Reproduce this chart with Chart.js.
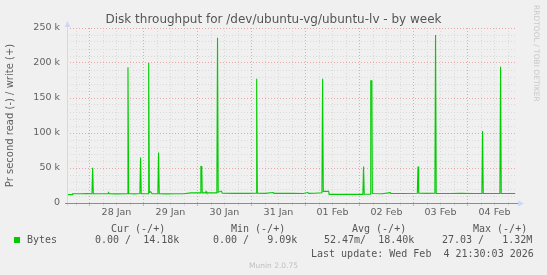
<!DOCTYPE html>
<html>
<head>
<meta charset="utf-8">
<script src="https://cdn.jsdelivr.net/npm/chart.js@4/dist/chart.umd.min.js"></script>
<style>
  html, body { margin:0; padding:0; background:#f0f0f0; }
  #wrap { position:relative; width:547px; height:275px; overflow:hidden; }
  canvas { position:absolute; left:0; top:0; }
  .m { position:absolute; white-space:pre; font:10px "DejaVu Sans Mono", monospace; color:#555; line-height:12px; }
  .box { position:absolute; left:14px; top:237px; width:6px; height:6px; background:#00cc00; }
  #rrd { position:absolute; left:532px; top:5px; writing-mode:vertical-rl; font:7.5px "DejaVu Sans", sans-serif;
         color:#c8c8c8; line-height:9px; white-space:pre; }
  #munin { position:absolute; left:0; width:547px; text-align:center; top:261px; font:7.5px "DejaVu Sans", sans-serif;
           color:#c0c0c0; line-height:9px; }
</style>
</head>
<body>
<div id="wrap">
  <canvas id="c" width="547" height="275"></canvas>
  <div id="rrd">RRDTOOL / TOBI OETIKER</div>
  <div class="m" style="left:111px;top:223px">Cur (-/+)</div>
  <div class="m" style="left:231px;top:223px">Min (-/+)</div>
  <div class="m" style="left:352px;top:223px">Avg (-/+)</div>
  <div class="m" style="left:473px;top:223px">Max (-/+)</div>
  <div class="box"></div>
  <div class="m" style="left:27px;top:234px">Bytes</div>
  <div class="m" style="left:95px;top:234px">0.00 /  14.18k</div>
  <div class="m" style="left:213px;top:234px">0.00 /   9.09k</div>
  <div class="m" style="left:324px;top:234px">52.47m/  18.40k</div>
  <div class="m" style="left:442px;top:234px">27.03 /   1.32M</div>
  <div class="m" style="left:311px;top:248px">Last update: Wed Feb  4 21:30:03 2026</div>
  <div id="munin">Munin 2.0.75</div>
</div>
<script>
// ---- data ------------------------------------------------------------------
// hours since the left edge of the graph (27 Jan 14:00), write bytes/s
const hours = [
  0, 2.3, 2.5, 6, 9, 11.1, 11.4, 11.7, 15, 18.2, 18.5, 18.8, 22, 26.8, 27.1, 27.4,
  30, 32.4, 32.7, 33.0, 36.0, 36.3, 36.6, 37.2, 37.8, 40.4, 40.7, 41.0, 44, 48, 52, 55,
  58, 59.3, 59.5, 59.9, 60.1, 61.5, 61.8, 62.1, 66.6, 66.9, 67.2, 68.6, 69.0, 75, 80, 84.0,
  84.3, 84.6, 88, 91.7, 92, 100, 105, 107, 107.5, 110, 113.3, 113.6, 113.9, 116.3, 116.5, 124,
  131.5, 131.8, 132.1, 134.8, 135.0, 135.5, 135.7, 140, 143.7, 144, 150, 155.7, 156.0, 156.3, 160, 163.5,
  163.8, 164.1, 170, 175, 180, 184.4, 184.7, 185.0, 189, 192.4, 192.7, 193.0, 199.2
];
const bytes = [
  12000, 12000, 13300, 13200, 13500, 13300, 50400, 13300, 13300, 13300, 15200, 13300, 13000, 13300, 194000, 13500,
  13000, 13500, 65000, 13300, 13300, 200000, 15000, 16000, 13300, 13300, 72000, 13300, 13000, 13300, 13300, 14500,
  14500, 14500, 52000, 52000, 14500, 14500, 16500, 14500, 14500, 236000, 15500, 17000, 14000, 13700, 13800, 14000,
  177600, 14000, 13800, 15000, 13800, 13800, 13500, 15000, 13800, 14000, 14500, 177600, 16600, 16600, 12300, 12300,
  12300, 52000, 12500, 12500, 174700, 174700, 13500, 13300, 14800, 13800, 13500, 14000, 52000, 14000, 13800, 14000,
  240000, 13500, 13500, 14000, 13500, 13500, 103000, 13500, 13500, 13500, 194700, 13500, 13500
];

const dayLabels  = ['28 Jan', '29 Jan', '30 Jan', '31 Jan', '01 Feb', '02 Feb', '03 Feb', '04 Feb'];
const labelHours = [22, 46, 70, 94, 118, 142, 166, 190];        // noon of each day
const midnights  = [10, 34, 58, 82, 106, 130, 154, 178];
const yMajor  = [0, 50000, 100000, 150000, 200000, 250000];
const yLabels = ['0', '50 k', '100 k', '150 k', '200 k', '250 k'];

const RED = 'rgba(228,150,150,0.8)';
const GREY = '#dadada';

// grid every 6 hours / every 10k
const xGrid = []; for (let h = 4; h < 200; h += 6) xGrid.push(h);
const yGrid = []; for (let v = 0; v <= 250000; v += 10000) yGrid.push(v);

Chart.defaults.font.family = '"DejaVu Sans", sans-serif';

// axis lines + arrows, rrdtool style
const axisLines = {
  id: 'axisLines',
  afterDatasetsDraw(chart){
    const { ctx, chartArea: a, scales } = chart;
    const y0 = Math.round(scales.y.getPixelForValue(0)) + 0.5;
    const x0 = Math.round(a.left) + 0.5;
    ctx.save();
    ctx.lineWidth = 1;
    ctx.strokeStyle = '#cfd6f8';
    ctx.fillStyle = '#cfd6f8';
    ctx.beginPath(); ctx.moveTo(x0, a.bottom + 3); ctx.lineTo(x0, a.top - 2); ctx.stroke();
    ctx.beginPath(); ctx.moveTo(x0 - 3, a.top - 1); ctx.lineTo(x0 + 3, a.top - 1); ctx.lineTo(x0, a.top - 7); ctx.fill();
    ctx.beginPath(); ctx.moveTo(a.right + 1, y0 - 3); ctx.lineTo(a.right + 1, y0 + 3); ctx.lineTo(a.right + 7, y0); ctx.fill();
    ctx.strokeStyle = '#8a8aa0';
    ctx.beginPath(); ctx.moveTo(a.left - 2, y0); ctx.lineTo(a.right + 1, y0); ctx.stroke();
    ctx.restore();
  }
};

new Chart(document.getElementById('c'), {
  type: 'line',
  data: {
    datasets: [{
      label: 'Bytes',
      data: hours.map((h, i) => ({ x: h, y: bytes[i] })),
      borderColor: '#00cc00',
      borderWidth: 1.1,
      pointRadius: 0,
      tension: 0,
      fill: false
    }]
  },
  options: {
    responsive: false,
    animation: false,
    devicePixelRatio: 1,
    layout: { padding: 0 },
    plugins: {
      legend: { display: false },
      tooltip: { enabled: false },
      title: {
        display: true,
        text: 'Disk throughput for /dev/ubuntu-vg/ubuntu-lv - by week',
        color: '#555',
        font: { size: 12, weight: 'normal' },
        padding: { top: 13, bottom: 0.6 }
      }
    },
    scales: {
      x: {
        type: 'linear', position: 'bottom', min: 0, max: 200,
        afterBuildTicks: s => { s.ticks = xGrid.map(v => ({ value: v })); },
        afterFit: s => { s.height = 72; },
        ticks: {
          autoSkip: false, maxRotation: 0, padding: 1, color: '#606060', font: { size: 9.5 },
          callback: v => { const i = labelHours.indexOf(v); return i < 0 ? '' : dayLabels[i]; }
        },
        grid: {
          color: c => midnights.includes(c.tick.value) ? RED : GREY,
          tickColor: c => midnights.includes(c.tick.value) ? RED : GREY,
          tickLength: 3, tickBorderDash: []
        },
        border: { display: false, dash: [1, 2] }
      },
      y: {
        position: 'left', min: 0, max: 250000,
        afterBuildTicks: s => { s.ticks = yGrid.map(v => ({ value: v })); },
        afterFit: s => { s.width = 67; },
        ticks: {
          autoSkip: false, padding: 7, color: '#606060', font: { size: 9.5 },
          callback: v => { const i = yMajor.indexOf(v); return i < 0 ? '' : yLabels[i]; }
        },
        grid: {
          drawTicks: false,
          color: c => yMajor.includes(c.tick.value) ? RED : GREY
        },
        border: { display: false, dash: [1, 2] },
        title: {
          display: true, text: 'Pr second read (-) / write (+)', color: '#606060',
          font: { size: 10 }, padding: { top: 4.5, bottom: 0 }
        }
      },
      yR: {
        position: 'right', display: true,
        afterFit: s => { s.width = 30; },
        ticks: { display: false },
        grid: { display: false, drawTicks: false },
        border: { display: false }
      }
    }
  },
  plugins: [axisLines]
});
</script>
</body>
</html>
